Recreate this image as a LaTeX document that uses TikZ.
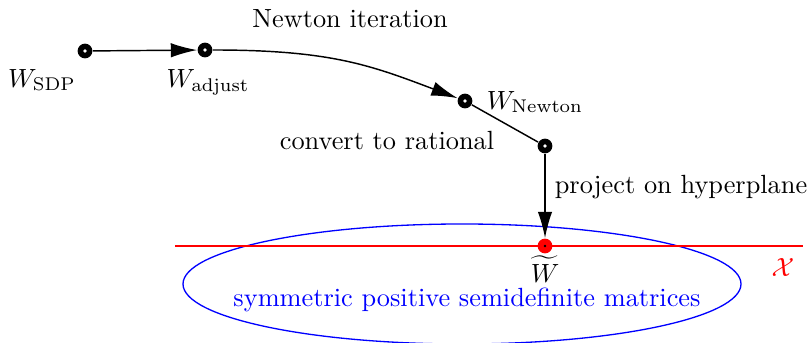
\documentclass[tikz,border=0pt]{standalone}
\usetikzlibrary{arrows.meta}
\begin{document}
\begin{tikzpicture}[x=0.380pt,y=-0.380pt,
  pt/.style={circle,fill=black,minimum size=5.6pt,inner sep=0pt,
    path picture={\fill[white] (path picture bounding box.center) circle (0.7pt);}},
  redpt/.style={circle,fill=red,minimum size=5.6pt,inner sep=0pt,
    path picture={\fill[black] (path picture bounding box.center) circle (0.5pt);}},
  conn/.style={line width=0.55pt},
  arr/.style={conn,-{Latex[length=10pt,width=5.5pt]}},
  lbl/.style={inner sep=0pt}]
\useasboundingbox (0,0) rectangle (812,343);
\clip (0,0) rectangle (812,343);
% set of matrices and hyperplane
\draw[blue,line width=0.5pt] (462,284) ellipse [x radius=279, y radius=60];
\node[lbl,blue] (psd) at (467,300) {symmetric positive semidefinite matrices};
\coordinate (hl) at (175,246);
\coordinate (hr) at (803,246);
\draw[red,line width=1.1pt] (hl) -- (hr);
\node[lbl,red] (X) at (783,268) {$\mathcal{X}$};
% points
\node[pt] (sdp) at (85,51) {};
\node[pt] (adj) at (205,50) {};
\node[pt] (newt) at (465,101) {};
\node[pt] (rat) at (545,146) {};
\node[redpt] (wt) at (545,246) {};
% labels
\node[lbl] (lsdp) at (42,80) {$W_{\mathrm{SDP}}$};
\node[lbl] (ladj) at (208,82) {$W_{\mathrm{adjust}}$};
\node[lbl] (lnewt) at (535,102) {$W_{\mathrm{Newton}}$};
\node[lbl] (lwt) at (545,269) {$\widetilde{W}$};
\node[lbl] (niter) at (350,19) {Newton iteration};
\node[lbl] (conv) at (387,141) {convert to rational};
\node[lbl] (proj) at (681,187) {project on hyperplane};
% connectors
\draw[arr] (sdp) -- (adj);
\draw[arr] (adj) .. controls (330,50) and (370,65) .. (newt);
\draw[conn] (newt) -- (rat);
\draw[arr] (rat) -- (wt);
\end{tikzpicture}
\end{document}
